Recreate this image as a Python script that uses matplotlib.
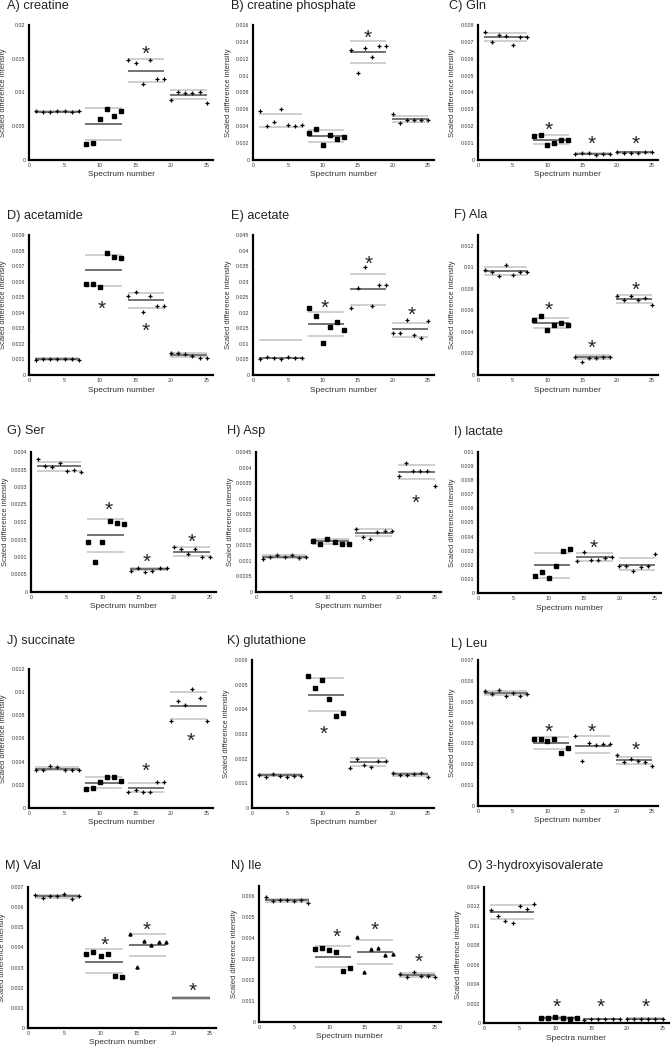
import numpy as np
import matplotlib
matplotlib.use("Agg")
import matplotlib.pyplot as plt
from matplotlib.ticker import FuncFormatter

plt.rcParams['font.family'] = ['Liberation Sans', 'DejaVu Sans']

nan = np.nan
spectrum = list(range(1, 26))
groups = [(1, 7), (8, 13), (14, 19), (20, 25)]

# ---------------- data ----------------
A_title = "A) creatine"
A_vals = [0.00721, 0.00711, 0.00711, 0.00726, 0.00731, 0.00711, 0.00726,
          0.00244, 0.00254, 0.00602, 0.00751, 0.00652, 0.00731,
          0.01488, 0.01438, 0.01119, 0.01488, 0.01204, 0.01204,
          0.00891, 0.0101, 0.0099, 0.00995, 0.0101, 0.00851]
A_mean = [0.00718, 0.00539, 0.01323, 0.0096]
A_hi = [0.00728, 0.00771, 0.01502, 0.0104]
A_lo = [0.00708, 0.00303, 0.01159, 0.0091]
A_star_x = [16.4]
A_star_y = [0.0165]
A_ymax, A_ystep = 0.02, 0.005

B_title = "B) creatine phosphate"
B_vals = [0.00577, 0.00406, 0.00446, 0.00609, 0.00418, 0.00398, 0.0041,
          0.00322, 0.0037, 0.00175, 0.00299, 0.00251, 0.00267,
          0.01301, 0.01031, 0.01329, 0.01222, 0.01357, 0.01357,
          0.00545, 0.00434, 0.00478, 0.0047, 0.00478, 0.0047]
B_mean = [nan, 0.00279, 0.01282, 0.0049]
B_hi = [0.00549, 0.0035, 0.01405, 0.00517]
B_lo = [0.00386, 0.00211, 0.0115, 0.00446]
B_star_x = [16.4]
B_star_y = [0.0151]
B_ymax, B_ystep = 0.016, 0.002

C_title = "C) Gln"
C_vals = [0.0076, 0.00701, 0.00742, 0.00733, 0.00683, 0.00729, 0.00729,
          0.00145, 0.00151, 0.00089, 0.00103, 0.00117, 0.00117,
          0.00034, 0.00044, 0.00042, 0.0003, 0.00038, 0.00038,
          0.0005, 0.00044, 0.00044, 0.00044, 0.00048, 0.00046]
C_mean = [0.0073, 0.00119, 0.00038, 0.00046]
C_hi = [0.00754, 0.00147, 0.00042, 0.0005]
C_lo = [0.00703, 0.00095, 0.00034, 0.00042]
C_star_x = [10.1, 16.4, 22.7]
C_star_y = [0.00212, 0.00127, 0.00129]
C_ymax, C_ystep = 0.008, 0.001

D_title = "D) acetamide"
D_vals = [0.00097, 0.00103, 0.00103, 0.00103, 0.00101, 0.00101, 0.00099,
          0.00588, 0.00588, 0.00566, 0.00784, 0.00758, 0.00754,
          0.00508, 0.00536, 0.00403, 0.00508, 0.00441, 0.00441,
          0.0014, 0.0014, 0.00136, 0.00125, 0.0011, 0.0011]
D_mean = [0.00103, 0.00672, 0.0048, 0.00129]
D_hi = [0.00108, 0.00773, 0.00528, 0.0014]
D_lo = [0.00099, 0.00575, 0.00431, 0.00116]
D_star_x = [10.2, 16.4]
D_star_y = [0.00463, 0.00319]
D_ymax, D_ystep = 0.009, 0.001

E_title = "E) acetate"
E_vals = [0.00525, 0.00579, 0.00536, 0.00514, 0.00579, 0.00557, 0.00557,
          0.02143, 0.01896, 0.01018, 0.01543, 0.01704, 0.01446,
          0.02142, 0.0281, 0.03477, 0.02207, 0.02896, 0.02896,
          0.01356, 0.01335, 0.01766, 0.0127, 0.01195, 0.01744]
E_mean = [0.0055, 0.01639, 0.02767, 0.01475]
E_hi = [0.0113, 0.02014, 0.0325, 0.01679]
E_lo = [nan, 0.01254, 0.0226, 0.01206]
E_star_x = [10.2, 16.5, 22.7]
E_star_y = [0.02325, 0.03746, 0.021]
E_ymax, E_ystep = 0.045, 0.005

F_title = "F) Ala"
F_vals = [0.00978, 0.00957, 0.00923, 0.01022, 0.00929, 0.0096, 0.0096,
          0.00511, 0.00551, 0.00415, 0.00464, 0.00483, 0.00467,
          0.00167, 0.00124, 0.00158, 0.00158, 0.0017, 0.0017,
          0.00731, 0.00697, 0.00731, 0.00697, 0.00712, 0.00653]
F_mean = [0.00963, 0.0048, 0.00167, 0.00706]
F_hi = [0.01, 0.00529, 0.00186, 0.00743]
F_lo = [0.00929, 0.0044, 0.00146, 0.00669]
F_star_x = [10.1, 16.4, 22.75]
F_star_y = [0.0066, 0.00303, 0.00839]
F_ymax, F_ystep = 0.013, 0.002

G_title = "G) Ser"
G_vals = [0.00379, 0.0036, 0.00356, 0.0037, 0.00345, 0.0035, 0.00342,
          0.00142, 0.00085, 0.00142, 0.00203, 0.00198, 0.00195,
          0.00061, 0.0007, 0.00056, 0.00059, 0.00068, 0.00068,
          0.00128, 0.00124, 0.00108, 0.00122, 0.00101, 0.00099]
G_mean = [0.00359, 0.00164, 0.00065, 0.00113]
G_hi = [0.00371, 0.00209, 0.00069, 0.00128]
G_lo = [0.00347, 0.00115, 0.00062, 0.00103]
G_star_x = [10.9, 16.2, 22.5]
G_star_y = [0.0025, 0.00102, 0.00159]
G_ymax, G_ystep = 0.004, 0.0005

H_title = "H) Asp"
H_vals = [0.00105, 0.00114, 0.00118, 0.00111, 0.0012, 0.00109, 0.00111,
          0.00163, 0.00155, 0.0017, 0.0016, 0.00155, 0.00155,
          0.00204, 0.00177, 0.00169, 0.00193, 0.00195, 0.00196,
          0.00374, 0.00414, 0.00388, 0.0039, 0.0039, 0.00341]
H_mean = [0.00114, 0.00165, 0.00189, 0.00385]
H_hi = [0.00119, 0.0017, 0.00201, 0.00409]
H_lo = [0.00109, 0.00155, 0.00179, 0.00362]
H_star_x = [22.4]
H_star_y = [0.00304]
H_ymax, H_ystep = 0.0045, 0.0005

I_title = "I) lactate"
I_vals = [nan, nan, nan, nan, nan, nan, nan,
          0.00122, 0.00148, 0.00108, 0.00188, 0.00299, 0.00315,
          0.00228, 0.00294, 0.00231, 0.00235, 0.00249, 0.00254,
          0.00193, 0.00188, 0.00153, 0.00181, 0.00193, 0.00278]
I_mean = [nan, 0.00198, 0.00254, 0.00202]
I_hi = [nan, 0.00287, 0.00282, 0.00247]
I_lo = [nan, 0.00108, 0.00226, 0.0016]
I_star_x = [16.4]
I_star_y = [0.00358]
I_ymax, I_ystep = 0.01, 0.001

J_title = "J) succinate"
J_vals = [0.00324, 0.00324, 0.00359, 0.00356, 0.00324, 0.00324, 0.0033,
          0.00164, 0.00175, 0.00221, 0.0027, 0.0027, 0.00235,
          0.00141, 0.00158, 0.00141, 0.00135, 0.00221, 0.00221,
          0.00749, 0.00927, 0.00887, 0.01025, 0.00947, 0.00749]
J_mean = [0.00339, 0.00218, 0.00175, 0.00884]
J_hi = [0.00356, 0.00267, 0.00212, 0.00999]
J_lo = [0.00324, 0.00169, 0.00135, 0.00772]
J_star_x = [16.4, 22.75]
J_star_y = [0.00365, 0.00623]
J_ymax, J_ystep = 0.012, 0.002

K_title = "K) glutathione"
K_vals = [0.00132, 0.00127, 0.00137, 0.00131, 0.00124, 0.00129, 0.00131,
          0.00535, 0.00487, 0.00517, 0.00442, 0.00374, 0.00385,
          0.00161, 0.00199, 0.00174, 0.00167, 0.00192, 0.00192,
          0.00143, 0.00133, 0.00133, 0.00136, 0.00141, 0.00127]
K_mean = [0.00133, 0.00457, 0.00188, 0.00137]
K_hi = [0.00137, 0.00527, 0.00201, 0.00143]
K_lo = [0.00128, 0.00392, 0.00171, 0.00131]
K_star_x = [10.2]
K_star_y = [0.00322]
K_ymax, K_ystep = 0.006, 0.001

L_title = "L) Leu"
L_vals = [0.00551, 0.00538, 0.00556, 0.00529, 0.00541, 0.00527, 0.00535,
          0.00322, 0.00319, 0.00311, 0.0032, 0.00255, 0.0028,
          0.00338, 0.00216, 0.00304, 0.00293, 0.00296, 0.00296,
          0.00243, 0.00211, 0.00227, 0.00215, 0.0021, 0.00192]
L_mean = [0.00543, 0.003, 0.0029, 0.00219]
L_hi = [0.00553, 0.0033, 0.00335, 0.00235]
L_lo = [0.0053, 0.00271, 0.00253, 0.00202]
L_star_x = [10.1, 16.4, 22.75]
L_star_y = [0.0038, 0.0038, 0.00296]
L_ymax, L_ystep = 0.007, 0.001

M_title = "M) Val"
M_vals = [0.00662, 0.00646, 0.00657, 0.00657, 0.00665, 0.00642, 0.00657,
          0.00366, 0.00379, 0.00356, 0.00369, 0.0026, 0.00255,
          0.00468, 0.00301, 0.00433, 0.00412, 0.00428, 0.00428,
          nan, nan, nan, nan, nan, nan]
M_mean = [0.00656, 0.00329, 0.00413, 0.0015]
M_hi = [0.00662, 0.00392, 0.00469, 0.00156]
M_lo = [0.00647, 0.00273, 0.00356, 0.00143]
M_star_x = [10.5, 16.4, 22.7]
M_star_y = [0.0044, 0.00514, 0.00211]
M_ymax, M_ystep = 0.007, 0.001

N_title = "N) Ile"
N_vals = [0.00598, 0.00576, 0.00582, 0.00582, 0.00578, 0.00584, 0.00568,
          0.00347, 0.00352, 0.00344, 0.00333, 0.00243, 0.00256,
          0.00408, 0.00237, 0.00349, 0.00354, 0.00322, 0.00323,
          0.00229, 0.00216, 0.00238, 0.00221, 0.00221, 0.00216]
N_mean = [0.00582, 0.00312, 0.00333, 0.00224]
N_hi = [0.00589, 0.00363, 0.0039, 0.00232]
N_lo = [0.00574, 0.00262, 0.00277, 0.00216]
N_star_x = [11.0, 16.4, 22.7]
N_star_y = [0.00432, 0.00467, 0.00312]
N_ymax, N_ystep = 0.0065, 0.001

O_title = "O) 3-hydroxyisovalerate"
O_vals = [0.0116, 0.01101, 0.01047, 0.01026, 0.01204, 0.01177, 0.01228,
          0.00051, 0.00051, 0.00062, 0.00051, 0.00045, 0.00051,
          0.00034, 0.00041, 0.00041, 0.00041, 0.00041, 0.00041,
          0.00045, 0.00045, 0.00045, 0.00045, 0.00045, 0.00045]
O_mean = [0.01143, 0.00051, 0.00041, 0.00045]
O_hi = [0.01218, 0.00058, 0.00044, 0.00049]
O_lo = [0.01067, 0.00044, 0.00038, 0.00041]
O_star_x = [10.2, 16.4, 22.7]
O_star_y = [0.00223, 0.00223, 0.00223]
O_ymax, O_ystep = 0.014, 0.002

x_label = "Spectrum number"
x_label_O = "Spectra number"
y_label = "Scaled difference intensity"

# ---------------- layout (pixel boxes: left, top, right, bottom; title x, baseline y) ----------------
W, H = 672, 1050
panels = [
    (A_title, A_vals, A_mean, A_hi, A_lo, A_star_x, A_star_y, A_ymax, A_ystep, (29, 25, 213, 160), (7, 9.5), '+', x_label),
    (B_title, B_vals, B_mean, B_hi, B_lo, B_star_x, B_star_y, B_ymax, B_ystep, (253, 25, 434, 160), (231, 9.5), '+', x_label),
    (C_title, C_vals, C_mean, C_hi, C_lo, C_star_x, C_star_y, C_ymax, C_ystep, (478, 25, 658, 160), (449, 9.5), '+', x_label),
    (D_title, D_vals, D_mean, D_hi, D_lo, D_star_x, D_star_y, D_ymax, D_ystep, (29, 235, 213, 375), (7, 219), '+', x_label),
    (E_title, E_vals, E_mean, E_hi, E_lo, E_star_x, E_star_y, E_ymax, E_ystep, (253, 235, 434, 375), (231, 219), '+', x_label),
    (F_title, F_vals, F_mean, F_hi, F_lo, F_star_x, F_star_y, F_ymax, F_ystep, (478, 235, 658, 375), (454, 218), '+', x_label),
    (G_title, G_vals, G_mean, G_hi, G_lo, G_star_x, G_star_y, G_ymax, G_ystep, (31, 452, 216, 592), (7, 434), '+', x_label),
    (H_title, H_vals, H_mean, H_hi, H_lo, H_star_x, H_star_y, H_ymax, H_ystep, (256, 452, 441, 592), (227, 434), '+', x_label),
    (I_title, I_vals, I_mean, I_hi, I_lo, I_star_x, I_star_y, I_ymax, I_ystep, (478, 452, 661, 593), (454, 435), '+', x_label),
    (J_title, J_vals, J_mean, J_hi, J_lo, J_star_x, J_star_y, J_ymax, J_ystep, (29, 669, 213, 808), (7, 644), '+', x_label),
    (K_title, K_vals, K_mean, K_hi, K_lo, K_star_x, K_star_y, K_ymax, K_ystep, (252, 660, 434, 808), (227, 644), '+', x_label),
    (L_title, L_vals, L_mean, L_hi, L_lo, L_star_x, L_star_y, L_ymax, L_ystep, (478, 660, 658, 806), (451, 647), '+', x_label),
    (M_title, M_vals, M_mean, M_hi, M_lo, M_star_x, M_star_y, M_ymax, M_ystep, (28, 887, 216, 1028), (5, 869), '^', x_label),
    (N_title, N_vals, N_mean, N_hi, N_lo, N_star_x, N_star_y, N_ymax, N_ystep, (259, 886, 441, 1022), (231, 869), '^', x_label),
    (O_title, O_vals, O_mean, O_hi, O_lo, O_star_x, O_star_y, O_ymax, O_ystep, (484, 887, 669, 1023), (468, 869), '+', x_label_O),
]

fig = plt.figure(figsize=(W / 100, H / 100), dpi=100)
fig.patch.set_facecolor('white')

mean_color = '#686868'
sd_color = '#cbcbcb'
fmt = FuncFormatter(lambda v, p: '0' if abs(v) < 1e-12 else '{:g}'.format(round(v, 6)))
star_fs = 15

for (title, vals, mean, hi, lo, sx, sy, ymax, ystep, box, tpos, g3marker, xl) in panels:
    l, t, r, b = box
    ax = fig.add_axes([l / W, 1 - b / H, (r - l) / W, (b - t) / H])
    vals = np.array(vals, dtype=float)
    xs = np.array(spectrum)
    # group lines
    for gi, (g0, g1) in enumerate(groups):
        for yv, c, z in ((hi[gi], sd_color, 1), (lo[gi], sd_color, 1), (mean[gi], mean_color, 2)):
            if not np.isnan(yv):
                ax.plot([g0 - 0.1, g1 + 0.05], [yv, yv], color=c, lw=1.3, zorder=z,
                        solid_capstyle='butt')
    # points
    for gi, (g0, g1) in enumerate(groups):
        sel = (xs >= g0) & (xs <= g1)
        if gi == 1:
            ax.plot(xs[sel], vals[sel], 's', color='black', ms=3.2, zorder=3, linestyle='none')
        elif gi == 2 and g3marker == '^':
            ax.plot(xs[sel], vals[sel], '^', color='black', ms=2.2, zorder=3, linestyle='none')
        else:
            ax.plot(xs[sel], vals[sel], '+', color='black', ms=2.6, mew=0.9, zorder=3, linestyle='none')
    # asterisks
    for x0, y0 in zip(sx, sy):
        ax.annotate('*', (x0, y0), xytext=(0, -0.55 * star_fs), textcoords='offset points',
                    ha='center', va='baseline', fontsize=star_fs, color='#222222')
    ax.set_xlim(0, 25.9)
    ax.set_ylim(0, ymax)
    ax.set_xticks([0, 5, 10, 15, 20, 25])
    ax.set_yticks(np.arange(0, ymax + 1e-9, ystep))
    ax.yaxis.set_major_formatter(fmt)
    ax.tick_params(length=0, labelsize=3.8, pad=2.5, colors='#333333')
    for s in ('top', 'right'):
        ax.spines[s].set_visible(False)
    for s in ('left', 'bottom'):
        ax.spines[s].set_linewidth(1.6)
        ax.spines[s].set_color('black')
    aw, ah = r - l, b - t
    ax.text(0.5, -15 / ah, xl, transform=ax.transAxes, ha='center', va='center',
            fontsize=6, color='#333333')
    ax.text(-25 / aw, 0.5, y_label, transform=ax.transAxes, ha='center', va='center',
            rotation=90, fontsize=5.4, color='#333333')
    fig.text(tpos[0] / W, 1 - tpos[1] / H, title, ha='left', va='baseline', fontsize=9.2,
             color='#222222')

fig.savefig('out.png', dpi=100, facecolor='white')
